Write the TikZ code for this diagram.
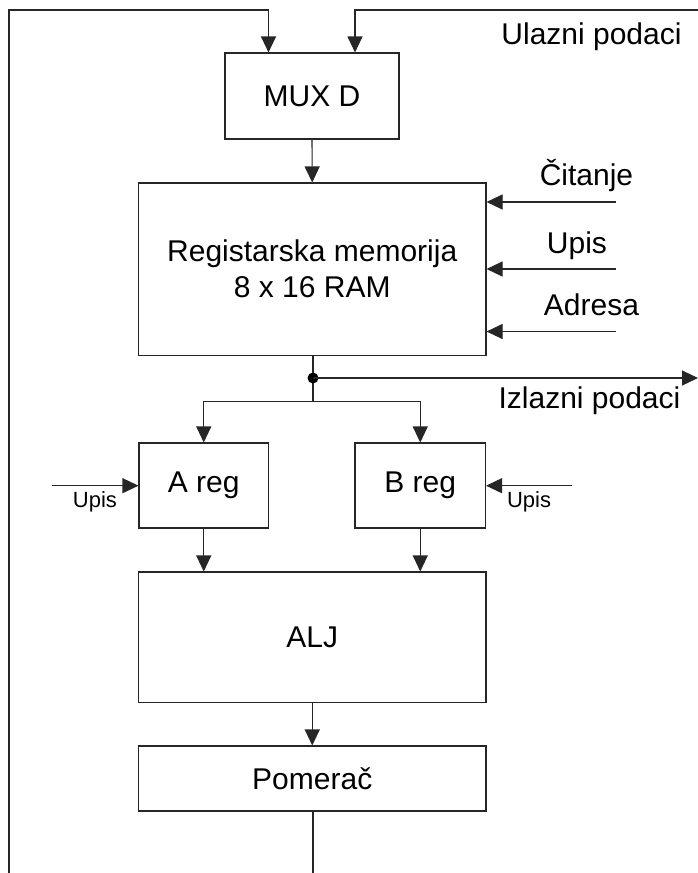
\documentclass[tikz,border=0pt]{standalone}
\usepackage{fontspec}
\setmainfont{Liberation Sans}
\usetikzlibrary{arrows.meta}
\begin{document}
\begin{tikzpicture}[x=1pt,y=-1pt,
  blk/.style={draw=black!85, line width=1.1pt, inner sep=0pt, align=center,
              font=\fontsize{30}{36}\selectfont},
  wire/.style={draw=black!85, line width=1.1pt},
  arr/.style={wire, -{Triangle[length=16pt,width=15pt]}},
  lbl/.style={inner sep=0pt, anchor=base, font=\fontsize{30}{36}\selectfont},
  slbl/.style={inner sep=0pt, anchor=base, font=\fontsize{22}{26}\selectfont}]
\useasboundingbox (0,0) rectangle (698,873);

% blocks
\node[blk, minimum width=174pt, minimum height=86pt] (mux) at (312,96) {MUX D};
\node[blk, minimum width=347.5pt, minimum height=172.5pt] (ram) at (312.25,269.25)
  {Registarska memorija\\8 x 16 RAM};
\node[blk, minimum width=129.5pt, minimum height=85pt] (areg) at (203.75,485.5) {A reg};
\node[blk, minimum width=130.5pt, minimum height=85pt] (breg) at (420.25,485.5) {B reg};
\node[blk, minimum width=347.5pt, minimum height=130.5pt] (alj) at (312.25,637.25) {ALJ};
\node[blk, minimum width=347.5pt, minimum height=65pt] (pom) at (312.25,778.5) {Pomerač};

% wire end points
\coordinate (fbk) at (9,873);
\coordinate (topA) at (268.5,10);
\coordinate (topB) at (355,10);
\coordinate (din) at (698,10);
\coordinate (rd) at (616,202);
\coordinate (wr) at (616,269);
\coordinate (ad) at (616,331.5);
\coordinate (jn) at (313,378);
\coordinate (dout) at (698,378);
\coordinate (split) at (313,401.5);
\coordinate (ua) at (52,485.7);
\coordinate (ub) at (572,485.7);
\coordinate (bot) at (313,873);

% inputs of the multiplexer
\draw[arr] (fbk) |- (topA) -- (topA |- mux.north);
\draw[arr] (din) -- (topB) -- (topB |- mux.north);
\draw[arr] (mux.south) -- (ram.north);

% control lines of the register file
\draw[arr] (rd) -- (rd -| ram.east);
\draw[arr] (wr) -- (wr -| ram.east);
\draw[arr] (ad) -- (ad -| ram.east);

% output bus and branch to the registers
\draw[wire] (jn |- ram.south) -- (jn) -- (split);
\fill[black] (jn) circle (5.5pt);
\draw[arr] (jn) -- (dout);
\draw[arr] (split) -| (areg.north);
\draw[arr] (split) -| (breg.north);

% load signals of the registers
\draw[arr] (ua) -- (ua -| areg.west);
\draw[arr] (ub) -- (ub -| breg.east);

% data path down through ALU and shifter
\draw[arr] (areg.south) -- (areg.south |- alj.north);
\draw[arr] (breg.south) -- (breg.south |- alj.north);
\draw[arr] (alj.south) -- (pom.north);
\draw[wire] (bot |- pom.south) -- (bot);

% labels
\node[lbl] (lin) at (591.5,44) {Ulazni podaci};
\node[lbl] (lrd) at (586.5,185) {Čitanje};
\node[lbl] (lwr) at (577,253) {Upis};
\node[lbl] (lad) at (591.5,315) {Adresa};
\node[lbl] (lout) at (589.5,408) {Izlazni podaci};
\node[slbl] (lua) at (95,507) {Upis};
\node[slbl] (lub) at (529,507) {Upis};
\end{tikzpicture}
\end{document}
